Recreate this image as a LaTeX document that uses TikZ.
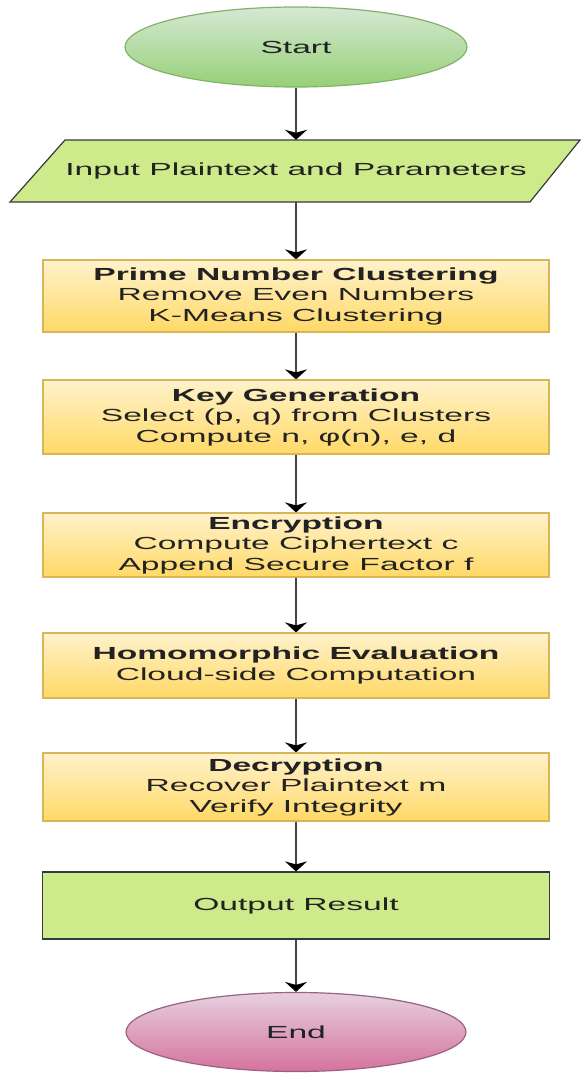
\documentclass[tikz,border=0pt]{standalone}
\usepackage{fontspec}
\setmainfont{Liberation Sans}[FakeStretch=1.92]
\usetikzlibrary{shapes.geometric,arrows.meta}
\definecolor{ylwtop}{HTML}{FFF2CC}
\definecolor{ylwbot}{HTML}{FFD966}
\definecolor{ylwline}{HTML}{D6B656}
\definecolor{grntop}{HTML}{D5E8D4}
\definecolor{grnbot}{HTML}{97D077}
\definecolor{grnline}{HTML}{82B366}
\definecolor{pnktop}{HTML}{E6D0DE}
\definecolor{pnkbot}{HTML}{D5739D}
\definecolor{pnkline}{HTML}{996185}
\definecolor{lime}{HTML}{CDEB8B}
\definecolor{limeline}{HTML}{36393D}
\definecolor{txt}{HTML}{222222}
\definecolor{arrline}{HTML}{444444}
\tikzset{
  base/.style={align=center, inner sep=0pt, text=txt, font=\fontsize{17.5}{20.5}\selectfont},
  stepbox/.style={base, rectangle, draw=ylwline, line width=1.2pt, top color=ylwtop, bottom color=ylwbot, minimum width=506pt},
  limebox/.style={base, rectangle, draw=limeline, line width=1.2pt, fill=lime, minimum width=507pt},
  term/.style={base, ellipse, line width=1.2pt},
  arr/.style={draw=arrline, line width=2pt, -{Stealth[length=10pt, width=22pt, inset=3pt, color=black]}},
}
\begin{document}
\begin{tikzpicture}[x=1pt, y=-1pt]
\useasboundingbox (0,0) rectangle (582,1073);
\node[term, draw=grnline, top color=grntop, bottom color=grnbot, minimum width=342pt, minimum height=80pt] (start) at (296,47) {Start};
\draw[draw=limeline, line width=1.2pt, fill=lime] (65,140) -- (580,140) -- (530,202) -- (10,202) -- cycle;
\node[base, minimum height=62pt] (in) at (296,171) {Input Plaintext and Parameters};
\node[stepbox, minimum height=72pt] (prime) at (296,296) {\textbf{Prime Number Clustering}\\Remove Even Numbers\\K-Means Clustering};
\node[stepbox, minimum height=74pt] (key) at (296,417) {\textbf{Key Generation}\\Select (p, q) from Clusters\\Compute n, φ(n), e, d};
\node[stepbox, minimum height=64pt] (enc) at (296,545) {\textbf{Encryption}\\Compute Ciphertext c\\Append Secure Factor f};
\node[stepbox, minimum height=65pt] (hom) at (296,665.5) {\textbf{Homomorphic Evaluation}\\Cloud-side Computation};
\node[stepbox, minimum height=68pt] (dec) at (296,787) {\textbf{Decryption}\\Recover Plaintext m\\Verify Integrity};
\node[limebox, minimum height=67pt] (out) at (296,905.5) {Output Result};
\node[term, draw=pnkline, top color=pnktop, bottom color=pnkbot, minimum width=340pt, minimum height=79pt] (end) at (296,1032) {End};
\draw[arr] (start) -- (in);
\draw[arr] (in) -- (prime);
\draw[arr] (prime) -- (key);
\draw[arr] (key) -- (enc);
\draw[arr] (enc) -- (hom);
\draw[arr] (hom) -- (dec);
\draw[arr] (dec) -- (out);
\draw[arr] (out) -- (end);
\end{tikzpicture}
\end{document}
